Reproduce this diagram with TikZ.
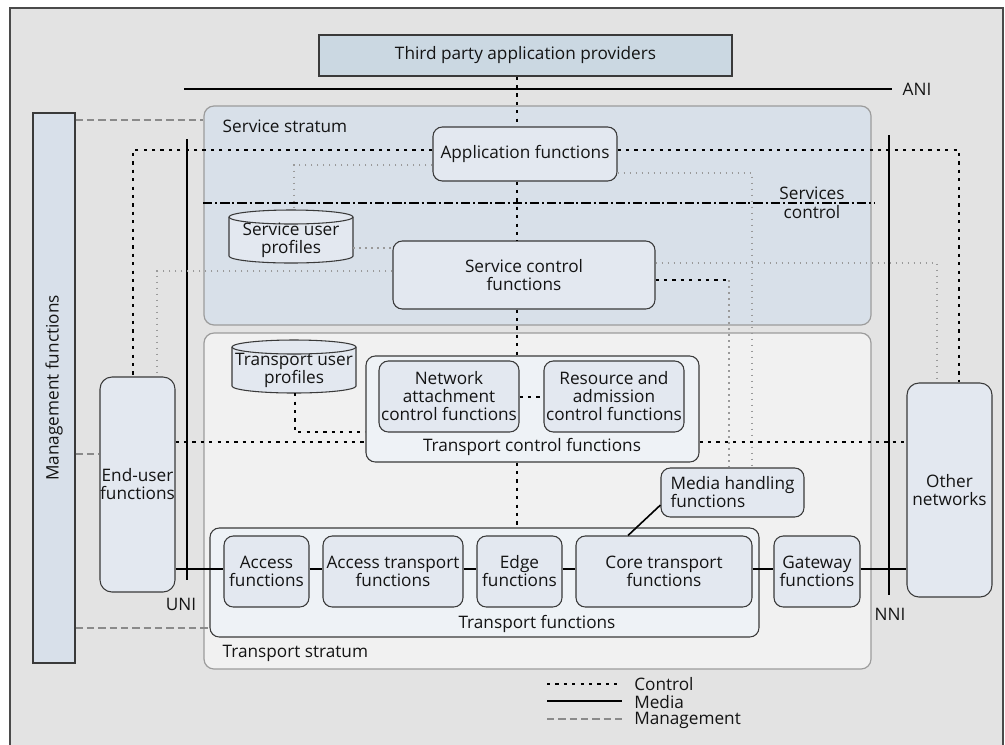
\documentclass[tikz,border=0pt]{standalone}
\usepackage{fontspec}
\setmainfont{Open Sans}
\usetikzlibrary{calc}

\definecolor{framebg}{HTML}{E3E3E3}
\definecolor{framedraw}{HTML}{4A4A4A}
\definecolor{ssfill}{HTML}{D8E0E9}
\definecolor{tsfill}{HTML}{F1F1F1}
\definecolor{strdraw}{HTML}{9C9C9C}
\definecolor{fnfill}{HTML}{E3E8F0}
\definecolor{grpfill}{HTML}{EEF2F6}
\definecolor{tpfill}{HTML}{CBD8E2}
\definecolor{mgfill}{HTML}{D8E0EA}
\definecolor{edgecol}{HTML}{3A3A3A}
\definecolor{txt}{HTML}{141414}
\definecolor{lightdot}{HTML}{9A9A9A}
\definecolor{mgmt}{HTML}{8A8A8A}

% stroke of a profile store (drum): left, top, right, bottom in pixels
\newcommand\drawdrum[4]{%
  \filldraw[draw=edgecol, line width=0.8pt, fill=fnfill]
    (#1,#2+7) -- (#1,#4-7)
    arc[start angle=180, end angle=360, x radius=46.5pt, y radius=5.25pt]
    -- (#3,#2+7)
    arc[start angle=0, end angle=180, x radius=46.5pt, y radius=5.25pt]
    -- cycle;
  \draw[draw=edgecol, line width=0.8pt] (#1,#2+7)
    arc[start angle=180, end angle=360, x radius=46.5pt, y radius=5.25pt];
}

\begin{document}
\begin{tikzpicture}[x=0.75pt, y=-0.75pt,
  every node/.style={font=\fontsize{12.9}{13.5}\selectfont, text=txt},
  sz/.style 2 args={minimum width=#1*0.75pt, minimum height=#2*0.75pt},
  fn/.style={draw=edgecol, line width=0.8pt, fill=fnfill, rounded corners=7pt,
             inner sep=0pt, align=center},
  tall/.style={fn, rounded corners=9pt},
  grp/.style={fn, fill=grpfill},
  stratum/.style={draw=strdraw, line width=0.9pt, rounded corners=7.5pt, inner sep=0pt},
  plain/.style={draw=edgecol, line width=0.9pt, inner sep=0pt, align=center},
  drumarea/.style={inner sep=0pt},
  ctrl/.style={draw=black, line width=0.8pt, dash pattern=on 2.4pt off 3.9pt},
  soft/.style={draw=lightdot, line width=1.1pt, dash pattern=on 1.4pt off 3.1pt},
  media/.style={draw=black, line width=2pt},
  iface/.style={draw=black, line width=1.9pt},
  mgline/.style={draw=mgmt, line width=1.4pt, dash pattern=on 5.5pt off 3pt},
  planeline/.style={draw=black, line width=0.9pt,
                    dash pattern=on 7pt off 2.2pt on 1.5pt off 2.2pt}]

\useasboundingbox (0,0) rectangle (1005,744);
\fill[white] (0,0) rectangle (1005,744);
\filldraw[draw=framedraw, line width=0.9pt, fill=framebg] (10,8) rectangle (1003,775);

% strata
\node[stratum, fill=ssfill, sz={667}{219}] (ss) at (537.5,215.5) {};
\node[stratum, fill=tsfill, sz={667}{336}] (ts) at (537.5,501) {};
\node[anchor=west] (sslabel) at (218,126) {Service stratum};
\node[anchor=west] (tslabel) at (218,653) {Transport stratum};

% interfaces
\coordinate (ani-l) at (184,89);
\coordinate (ani-r) at (892,89);
\coordinate (uni-t) at (187,139);
\coordinate (uni-b) at (187,580);
\coordinate (nni-t) at (889,135);
\coordinate (nni-b) at (889,595);
\draw[iface] (ani-l) -- (ani-r);
\draw[iface] (uni-t) -- (uni-b);
\draw[iface] (nni-t) -- (nni-b);
\node[anchor=west] (anilabel) at (898,89) {ANI};
\node (unilabel) at (181,604) {UNI};
\node (nnilabel) at (890,614) {NNI};

% boundary between application and control planes
\coordinate (plane-l) at (203,203);
\coordinate (plane-r) at (875,203);
\draw[planeline] (plane-l) -- (plane-r);
\node[align=center] (svcctl) at (812,203) {Services\\[1pt]control};

% outer blocks
\node[plain, fill=tpfill, sz={413}{41}] (tp) at (525.5,55.5) {Third party application providers};
\node[plain, fill=mgfill, sz={42}{550}] (mg) at (54,388) {};
\node[rotate=90] (mglabel) at (mg.center) {Management functions};
\node[tall, sz={75}{215}] (eu) at (137.5,484.5) {End-user\\functions};
\node[tall, sz={85}{214}] (on) at (949.5,490) {Other\\networks};

% service stratum
\node[fn, sz={184}{54}] (af) at (525,154) {Application functions};
\node[fn, sz={262}{68}] (scf) at (524,275) {Service control\\functions};
\drawdrum{229}{210}{353}{263}
\node[drumarea, sz={124}{53}] (sup) at (291,236.5) {};
\node[align=center] (suptext) at (291,240) {Service user\\profiles};

% transport stratum: control
\drawdrum{232}{340}{356}{393}
\node[drumarea, sz={124}{53}] (tup) at (294,366.5) {};
\node[align=center] (tuptext) at (294,370) {Transport user\\profiles};
\node[grp, sz={333}{106}] (tcf) at (532.5,409) {};
\node (tcflabel) at (532,447) {Transport control functions};
\node[fn, sz={140}{71}] (nacf) at (449,396.5) {Network\\attachment\\control functions};
\node[fn, sz={140}{71}] (racf) at (614,396.5) {Resource and\\admission\\control functions};
\node[fn, align=left, sz={143}{49}] (mh) at (732.5,492.5) {Media handling\\functions};

% transport stratum: transport
\node[grp, sz={549}{109}] (tf) at (484.5,582.5) {};
\node (tflabel) at (537,624) {Transport functions};
\node[fn, sz={85}{71}] (acc) at (266.5,571.5) {Access\\functions};
\node[fn, sz={140}{71}] (atf) at (393,571.5) {Access transport\\functions};
\node[fn, sz={85}{71}] (edge) at (519.5,571.5) {Edge\\functions};
\node[fn, sz={176}{71}] (ctf) at (664,571.5) {Core transport\\functions};
\node[fn, sz={86}{71}] (gw) at (817,571.5) {Gateway\\functions};

% control spine
\coordinate (spine) at (517,0);
\draw[ctrl] (tp.south -| spine) -- (af.north -| spine);
\draw[ctrl] (af.south -| spine) -- (scf.north -| spine);
\draw[ctrl] (scf.south -| spine) -- (tcf.north -| spine);
\draw[ctrl] (tcf.south -| spine) -- (tf.north -| spine);

% control relations
\draw[ctrl] (af.west |- 0,150) -| (eu.north -| 133,0);
\draw[ctrl] (af.east |- 0,150) -| (on.north -| 959,0);
\draw[soft] (af.west |- 0,165) -| (sup.north -| 294,0);
\draw[soft] (af.east |- 0,173) -| (mh.north -| 752,0);
\draw[soft] (sup.east |- 0,248) -- (scf.west |- 0,248);
\draw[soft] (scf.west |- 0,271) -| (eu.north -| 157,0);
\draw[soft] (scf.east |- 0,263) -| (on.north -| 937,0);
\coordinate (mhbend) at (729,280);
\draw[ctrl] (scf.east |- mhbend) -- (mhbend);
\draw[soft] (mhbend) -- (mh.north -| mhbend);
\draw[ctrl] (tup.south -| 295,0) |- (tcf.west |- 0,432);
\draw[ctrl] (eu.east |- 0,442) -- (tcf.west |- 0,442);
\draw[ctrl] (tcf.east |- 0,442) -- (on.west |- 0,442);
\draw[ctrl] (nacf.east |- 0,397) -- (racf.west |- 0,397);

% media path
\draw[media] (eu.east |- 0,569) -- (acc.west |- 0,569);
\draw[media] (acc.east |- 0,569) -- (atf.west |- 0,569);
\draw[media] (atf.east |- 0,569) -- (edge.west |- 0,569);
\draw[media] (edge.east |- 0,569) -- (ctf.west |- 0,569);
\draw[media] (ctf.east |- 0,569) -- (gw.west |- 0,569);
\draw[media] (gw.east |- 0,569) -- (on.west |- 0,569);
\draw[draw=black, line width=1.2pt] (mh.west |- 0,505) -- (ctf.north -| 628,0);

% management
\draw[mgline] (mg.east |- 0,120) -- (ss.west |- 0,120);
\draw[mgline] (mg.east |- 0,454) -- (eu.west |- 0,454);
\draw[mgline] (mg.east |- 0,628) -- (tf.west |- 0,628);

% legend
\coordinate (lg1a) at (547,684); \coordinate (lg1b) at (622,684);
\coordinate (lg2a) at (547,701); \coordinate (lg2b) at (622,701);
\coordinate (lg3a) at (547,719); \coordinate (lg3b) at (622,719);
\draw[ctrl] (lg1a) -- (lg1b);
\draw[media, line width=1.8pt] (lg2a) -- (lg2b);
\draw[mgline, line width=1.2pt] (lg3a) -- (lg3b);
\node[anchor=west, inner sep=0pt] (lgctrl) at (634,684) {Control};
\node[anchor=west, inner sep=0pt] (lgmedia) at (634,702) {Media};
\node[anchor=west, inner sep=0pt] (lgmgmt) at (634,720) {Management};
\end{tikzpicture}
\end{document}
